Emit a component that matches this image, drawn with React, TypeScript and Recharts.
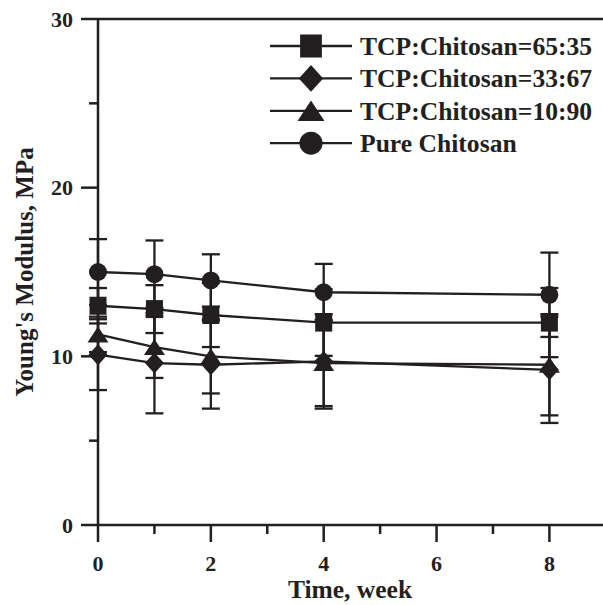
import React from 'react';
import { LineChart, Line, XAxis, YAxis, ErrorBar, Legend, ReferenceLine, Label } from 'recharts';

// ---- data ----
const weeks = [0, 1, 2, 4, 8];
const seriesNames = ['TCP:Chitosan=65:35', 'TCP:Chitosan=33:67', 'TCP:Chitosan=10:90', 'Pure Chitosan'];
const tcp6535 = [13.0, 12.8, 12.45, 12.0, 12.0];
const tcp6535Err = [1.05, 1.42, 1.9, 1.97, 2.05];
const tcp3367 = [10.1, 9.6, 9.5, 9.7, 9.2];
const tcp3367Err = [2.1, 2.98, 2.6, 2.8, 3.15];
const tcp1090 = [11.3, 10.55, 10.0, 9.6, 9.5];
const tcp1090Err = [1.05, 1.83, 2.2, 2.55, 3.0];
const pureChitosan = [15.0, 14.87, 14.5, 13.8, 13.65];
const pureChitosanErr = [1.95, 2.0, 1.55, 1.68, 2.5];
const xTicks = [0, 1, 2, 3, 4, 5, 6, 7, 8];
const xMajorTicks = [0, 2, 4, 6, 8];
const yTicks = [0, 5, 10, 15, 20, 25, 30];
const yMajorTicks = [0, 10, 20, 30];

const seriesValues = [tcp6535, tcp3367, tcp1090, pureChitosan];
const seriesErrors = [tcp6535Err, tcp3367Err, tcp1090Err, pureChitosanErr];
const markerKinds = ['square', 'diamond', 'triangle', 'circle'];

const data = weeks.map((w, i) => {
  const row: any = { week: w };
  seriesValues.forEach((vals, s) => {
    row['v' + s] = vals[i];
    row['e' + s] = seriesErrors[s][i];
  });
  return row;
});

const INK = '#231f20';
const FONT = "'Liberation Serif', 'Times New Roman', Times, serif";

function Marker({ kind, cx, cy, k = 1 }: { kind: string; cx: number; cy: number; k?: number }) {
  if (cx == null || cy == null) return null;
  if (kind === 'square') {
    const w = 17 * k, h = 18 * k;
    return <rect x={cx - w / 2} y={cy - h / 2} width={w} height={h} fill={INK} />;
  }
  if (kind === 'diamond') {
    const w = 9.5 * k, h = 10.5 * k;
    return <polygon points={`${cx},${cy - h} ${cx + w},${cy} ${cx},${cy + h} ${cx - w},${cy}`} fill={INK} />;
  }
  if (kind === 'triangle') {
    const w = 10.5 * k, h = 8 * k;
    return <polygon points={`${cx},${cy - h} ${cx + w},${cy + h} ${cx - w},${cy + h}`} fill={INK} />;
  }
  return <circle cx={cx} cy={cy} r={9 * k} fill={INK} />;
}

const XTick = (props: any) => {
  const { x, y, payload } = props;
  const major = xMajorTicks.includes(payload.value);
  return (
    <g>
      <line x1={x} x2={x} y1={y} y2={y + (major ? 17 : 9)} stroke={INK} strokeWidth={2.5} />
      {major && (
        <text x={x} y={y + 46} textAnchor="middle" fontFamily={FONT} fontWeight="bold" fontSize={22} fill={INK}>
          {payload.value}
        </text>
      )}
    </g>
  );
};

const YTick = (props: any) => {
  const { x, y, payload } = props;
  const major = yMajorTicks.includes(payload.value);
  return (
    <g>
      <line x1={x - (major ? 17 : 9)} x2={x} y1={y} y2={y} stroke={INK} strokeWidth={2.5} />
      {major && (
        <text x={x - 25} y={y} dy="0.35em" textAnchor="end" fontFamily={FONT} fontWeight="bold" fontSize={22} fill={INK}>
          {payload.value}
        </text>
      )}
    </g>
  );
};

const renderLegend = () => (
  <svg width={343} height={135} style={{ display: 'block', overflow: 'visible' }}>
    {seriesNames.map((name, i) => {
      const y = 18 + i * 32.4;
      return (
        <g key={name}>
          <line x1={10} x2={92} y1={y} y2={y} stroke={INK} strokeWidth={2.3} />
          <Marker kind={markerKinds[i]} cx={51} cy={y} k={1.28} />
          <text x={100} y={y} dy="0.35em" fontFamily={FONT} fontWeight="bold" fontSize={25.6} fill={INK}>
            {name}
          </text>
        </g>
      );
    })}
  </svg>
);

export default function App() {
  return (
    <div style={{ position: 'absolute', left: 0, top: 0, width: 603, height: 605, background: '#fff' }}>
      <LineChart width={603} height={605} data={data} margin={{ top: 19, right: 0, bottom: 0, left: 0 }}>
        <XAxis
          dataKey="week"
          type="number"
          domain={[0, 8.95]}
          ticks={xTicks}
          interval={0}
          tickSize={0}
          tickMargin={0}
          tickLine={false}
          tick={XTick}
          axisLine={{ stroke: INK, strokeWidth: 2.5 }}
          height={80}
        >
          <Label
            content={() => (
              <text x={350} y={598} textAnchor="middle" fontFamily={FONT} fontWeight="bold" fontSize={25.5} fill={INK}>
                Time, week
              </text>
            )}
          />
        </XAxis>
        <YAxis
          type="number"
          domain={[0, 30]}
          ticks={yTicks}
          interval={0}
          tickSize={0}
          tickMargin={0}
          tickLine={false}
          tick={YTick}
          axisLine={{ stroke: INK, strokeWidth: 2.5 }}
          width={98}
        >
          <Label
            content={() => (
              <text
                x={33}
                y={272}
                textAnchor="middle"
                transform="rotate(-90, 33, 272)"
                fontFamily={FONT}
                fontWeight="bold"
                fontSize={25}
                fill={INK}
              >
                Young's Modulus, MPa
              </text>
            )}
          />
        </YAxis>
        <ReferenceLine y={30} stroke={INK} strokeWidth={2.5} />
        {seriesNames.map((name, s) => (
          <Line
            key={name}
            name={name}
            dataKey={'v' + s}
            stroke={INK}
            strokeWidth={2.3}
            isAnimationActive={false}
            activeDot={false}
            dot={(p: any) => <Marker key={'m' + s + '-' + p.index} kind={markerKinds[s]} cx={p.cx} cy={p.cy} />}
          >
            <ErrorBar dataKey={'e' + s} direction="y" width={9} strokeWidth={2.3} stroke={INK} isAnimationActive={false} />
          </Line>
        ))}
        <Legend
          layout="horizontal"
          verticalAlign="middle"
          align="center"
          content={renderLegend}
          wrapperStyle={{ left: 260, top: 28, width: 343, height: 135 }}
        />
      </LineChart>
    </div>
  );
}
